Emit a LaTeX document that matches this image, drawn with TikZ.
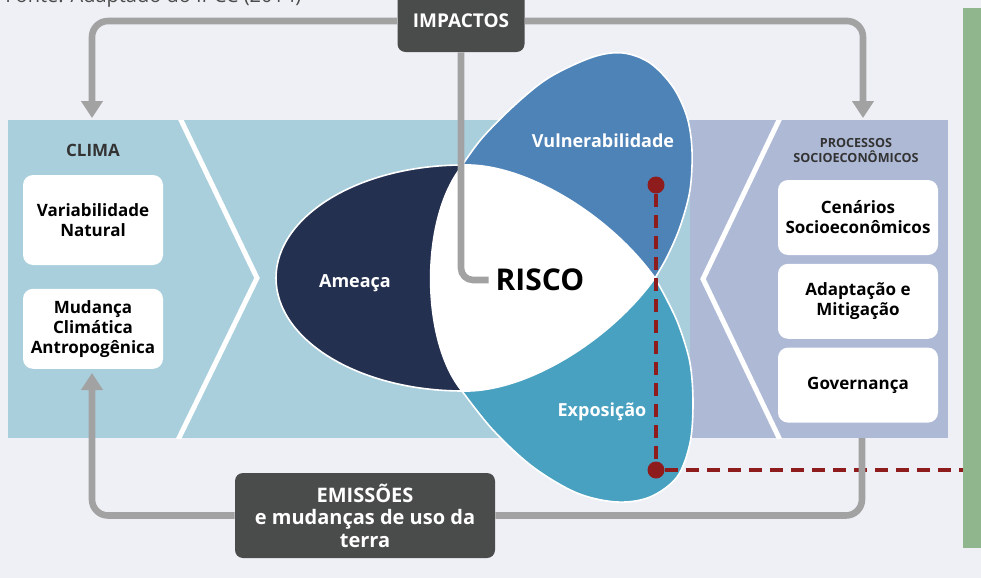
\documentclass[tikz,border=0pt]{standalone}
\usepackage{fontspec}
\setmainfont{Open Sans}
\usetikzlibrary{arrows.meta,positioning}

\definecolor{bgpage}{HTML}{EEF0F5}
\definecolor{climablue}{HTML}{A9CFDD}
\definecolor{proclav}{HTML}{AEB9D6}
\definecolor{ameacacol}{HTML}{24304F}
\definecolor{vulncol}{HTML}{4E83B8}
\definecolor{expocol}{HTML}{48A1C0}
\definecolor{flowgray}{HTML}{A2A2A2}
\definecolor{boxgray}{HTML}{4A4B4B}
\definecolor{riskred}{HTML}{8E1C1C}
\definecolor{notegreen}{HTML}{8FB68D}

\begin{document}
\begin{tikzpicture}[
  x=0.5pt, y=-0.5pt,
  >={Triangle[width=10.5pt, length=8.5pt]},
  every node/.style={align=center},
  panel/.style={inner sep=0pt, outer sep=0pt, minimum height=159pt},
  cbox/.style={fill=white, rounded corners=5pt, minimum width=70pt, text=black,
               font=\fontsize{8.5}{10}\selectfont\bfseries},
  pbox/.style={cbox, minimum width=80pt, minimum height=37.5pt},
  dbox/.style={fill=boxgray, rounded corners=4pt, text=white},
  head/.style={text=black!80, font=\bfseries},
  lbl/.style={text=white, font=\fontsize{9}{11}\selectfont\bfseries},
  petal/.style={draw=white, line width=0.8pt},
  chevron/.style={draw=white, line width=2.5pt},
  flow/.style={draw=flowgray, line width=3.3pt, rounded corners=8pt},
  reddash/.style={draw=riskred, line width=2pt, dash pattern=on 6.5pt off 4pt},
  dot/.style={circle, fill=riskred, minimum size=8.5pt, inner sep=0pt},
]
  \useasboundingbox (0,0) rectangle (981,578);
  \fill[bgpage] (0,0) rectangle (981,578);

  \node[anchor=base west, inner sep=0pt, text=black!70, font=\fontsize{10}{12}\selectfont]
       (fonte) at (5,3) {Fonte: Adaptado do IPCC (2014)};

  % panels
  \node[panel, fill=climablue, minimum width=341pt] (climapanel) at (349,279) {};
  \node[panel, fill=proclav, minimum width=129pt]  (procpanel)  at (819,279) {};
  \node[panel, fill=notegreen, minimum width=14pt, minimum height=270pt] (nota) at (977,278) {};

  \begin{scope}
    \clip (8,120) rectangle (948,438);
    \draw[chevron] (180,118) -- (257,278) -- (178,440);
    \draw[chevron] (780,118) -- (703,279) -- (780,440);
  \end{scope}

  % the three petals and the risk area
  \filldraw[petal, fill=ameacacol] (463,278) ellipse [x radius=93.5pt, y radius=56.5pt];
  \filldraw[petal, fill=vulncol] plot[smooth, tension=0.55] coordinates
    {(463,164) (483,137) (517,103) (550,77) (593,57) (623,53) (650,63) (673,87) (687,117)
     (692,150) (690,190) (680,227) (667,257) (655,278)} -- cycle;
  \filldraw[petal, fill=expocol] plot[smooth, tension=0.55] coordinates
    {(462,391) (493,430) (533,467) (577,493) (617,502) (650,497) (677,477) (690,443)
     (693,403) (690,363) (679,326) (667,300) (655,278)} -- cycle;
  \filldraw[petal, fill=white] (463,165) .. controls (525,163) and (610,215) .. (655,278)
    .. controls (610,341) and (525,393) .. (462,391)
    .. controls (420,340) and (420,216) .. cycle;

  \node[lbl] (ameaca) at (355,283) {Ameaça};
  \node[lbl] (vuln)   at (603,141) {Vulnerabilidade};
  \node[lbl] (expo)   at (602,412) {Exposição};
  \node[font=\fontsize{15}{18}\selectfont\bfseries] (risco) at (540,280) {RISCO};

  \node[dot] (dv) at (656,185) {};
  \node[dot] (de) at (656,470) {};
  \draw[reddash] (dv) -- (de) -- (de -| nota.west);

  % clima
  \node[head, font=\fontsize{8.5}{10}\selectfont\bfseries] (clima) at (93,150) {CLIMA};
  \node[cbox, minimum height=45pt] (varnat) at (93,220) {Variabilidade\\Natural};
  \node[cbox, minimum height=40pt, below=11.5pt of varnat] (mudanca) {Mudança\\Climática\\Antropogênica};

  % processos
  \node[head, font=\fontsize{6.3}{7.5}\selectfont\bfseries] (processos) at (856,150) {PROCESSOS\\SOCIOECONÔMICOS};
  \node[pbox] (cenarios) at (858,217.5) {Cenários\\Socioeconômicos};
  \node[pbox, below=4pt of cenarios] (adapt) {Adaptação e\\Mitigação};
  \node[pbox, below=4pt of adapt] (gov) {Governança};

  \node[dbox, minimum width=63.5pt, minimum height=31pt, font=\fontsize{9.5}{11}\selectfont\bfseries]
       (impactos) at (461,21) {IMPACTOS};
  \node[dbox, minimum width=130pt, minimum height=42.5pt, font=\fontsize{10}{11.2}\selectfont\bfseries]
       (emissoes) at (365,515.5) {EMISSÕES\\e mudanças de uso da\\terra};

  \coordinate (climatop) at (92,118);
  \coordinate (proctop)  at (863,118);
  \coordinate (climalow) at (92,373);
  \coordinate (proclow)  at (862,438);

  \draw[flow, ->] (impactos.west) -| (climatop);
  \draw[flow, ->] (impactos.east) -| (proctop);
  \draw[flow, rounded corners=6pt] (impactos.south) |- (risco.west);
  \draw[flow, ->] (emissoes.west) -| (climalow);
  \draw[flow] (proclow) |- (emissoes.east);
\end{tikzpicture}
\end{document}
